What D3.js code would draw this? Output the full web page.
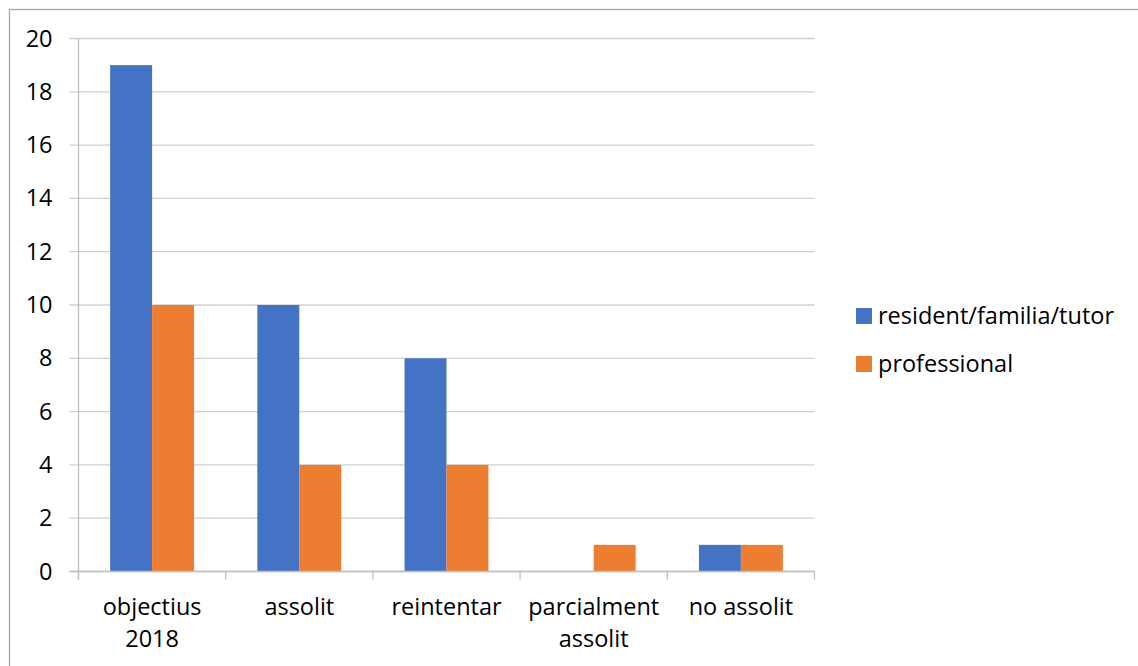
<!DOCTYPE html>
<html>
<head>
<meta charset="utf-8">
<script src="https://cdn.jsdelivr.net/npm/d3@7"></script>
<style>
  body { margin: 0; background: #fff; }
  text { font-family: "Open Sans", "Noto Sans", sans-serif; fill: #000; }
</style>
</head>
<body>
<div id="chart"></div>
<script>
var categories = [['objectius', '2018'], ['assolit'], ['reintentar'], ['parcialment', 'assolit'], ['no assolit']];
var catKeys = ['objectius 2018', 'assolit', 'reintentar', 'parcialment assolit', 'no assolit'];
var seriesNames = ['resident/familia/tutor', 'professional'];
var residentValues = [19, 10, 8, 0, 1];
var professionalValues = [10, 4, 4, 1, 1];
var yTicks = [0, 2, 4, 6, 8, 10, 12, 14, 16, 18, 20];
var colors = ['#4472C4', '#ED7D31'];

var W = 1138, H = 666;
var margins = {top: 38.5, left: 78.5, right: 323.5, bottom: 94.5};
var width = W - margins.left - margins.right;
var height = H - margins.top - margins.bottom;
var fontSize = '23.5px';

var svg = d3.select('#chart').append('svg').attr('width', W).attr('height', H);

// outer border
svg.append('rect').attr('x', 9.5).attr('y', 9.5).attr('width', W + 10).attr('height', H + 10)
	.style('fill', 'none').style('stroke', '#a6a6a6').style('stroke-width', 1.3);

var yscale = d3.scaleLinear().domain([0, 20]).range([height, 0]);
var xscale = d3.scaleBand().domain(catKeys).range([0, width]).paddingInner(0.43).paddingOuter(0.215);
var inner = d3.scaleBand().domain(seriesNames).range([0, xscale.bandwidth()]);

var g = svg.append('g').attr('transform', 'translate(' + margins.left + ',' + margins.top + ')');

// gridlines + left ticks
g.selectAll('.grid').data(yTicks).enter().append('line')
	.attr('x1', -9).attr('x2', width)
	.attr('y1', function(d) { return yscale(d); })
	.attr('y2', function(d) { return yscale(d); })
	.style('stroke', '#d0d0d0').style('stroke-width', 1.3);

var vaxis = d3.axisLeft(yscale).tickValues(yTicks).tickSize(0).tickPadding(26);
var vguide = g.append('g').call(vaxis);
vguide.select('.domain').remove();
vguide.attr('font-size', null).attr('font-family', null);
vguide.selectAll('text').style('font-size', fontSize);

// bars
var seriesData = [residentValues, professionalValues];
seriesNames.forEach(function(name, s) {
	g.selectAll('.bar' + s).data(seriesData[s]).enter().append('rect')
		.style('fill', colors[s])
		.attr('x', function(d, i) { return xscale(catKeys[i]) + inner(name); })
		.attr('width', inner.bandwidth())
		.attr('y', function(d) { return yscale(d); })
		.attr('height', function(d) { return height - yscale(d); });
});

// axes lines
g.append('line').attr('x1', 0).attr('x2', 0).attr('y1', 0).attr('y2', height + 8)
	.style('stroke', '#bfbfbf').style('stroke-width', 1.3);
g.append('line').attr('x1', -9).attr('x2', width).attr('y1', height).attr('y2', height)
	.style('stroke', '#bfbfbf').style('stroke-width', 1.3);
var bounds = catKeys.map(function(k) { return xscale(k) - xscale.step() * 0.215; }).concat([width]);
g.selectAll('.xtick').data(bounds).enter().append('line')
	.attr('x1', function(d) { return d; }).attr('x2', function(d) { return d; })
	.attr('y1', height).attr('y2', height + 8)
	.style('stroke', '#bfbfbf').style('stroke-width', 1.3);

// category labels
var labels = g.selectAll('.cat').data(categories).enter().append('text')
	.attr('text-anchor', 'middle')
	.attr('transform', function(d, i) {
		return 'translate(' + (xscale(catKeys[i]) + xscale.bandwidth() / 2) + ',' + (height + 43) + ')';
	})
	.style('font-size', fontSize);
labels.selectAll('tspan').data(function(d) { return d; }).enter().append('tspan')
	.attr('x', 0).attr('dy', function(d, i) { return i === 0 ? 0 : 32; })
	.text(function(d) { return d; });

// legend
var legend = svg.append('g').attr('transform', 'translate(856,308)');
seriesNames.forEach(function(name, s) {
	var item = legend.append('g').attr('transform', 'translate(0,' + (s * 48) + ')');
	item.append('rect').attr('width', 16).attr('height', 16).style('fill', colors[s]);
	item.append('text').attr('x', 22).attr('y', 16).style('font-size', fontSize).text(name);
});
</script>
</body>
</html>
